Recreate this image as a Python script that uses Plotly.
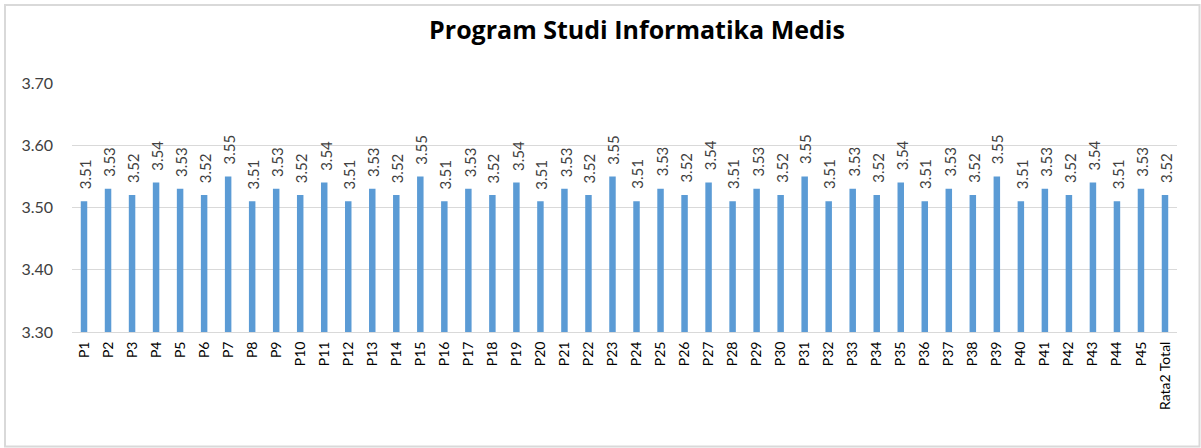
import plotly.graph_objects as go

categories = [f"P{i}" for i in range(1, 46)] + ["Rata2 Total"]
values = [3.51, 3.53, 3.52, 3.54, 3.53, 3.52, 3.55, 3.51, 3.53, 3.52,
          3.54, 3.51, 3.53, 3.52, 3.55, 3.51, 3.53, 3.52, 3.54, 3.51,
          3.53, 3.52, 3.55, 3.51, 3.53, 3.52, 3.54, 3.51, 3.53, 3.52,
          3.55, 3.51, 3.53, 3.52, 3.54, 3.51, 3.53, 3.52, 3.55, 3.51,
          3.53, 3.52, 3.54, 3.51, 3.53, 3.52]
y_ticks = [3.30, 3.40, 3.50, 3.60, 3.70]
title = "Program Studi Informatika Medis"

FONT = "Lato, Carlito, 'Open Sans', sans-serif"
TITLE_FONT = "'Open Sans', Lato, sans-serif"
TXT = "#404040"
W, H = 1201, 448
ML, MR, MT, MB = 72, 24, 83, 116
pw = W - ML - MR
ph = H - MT - MB


def px_x(x):
    return (x - ML) / pw


def px_y(y):
    return (H - MB - y) / ph


fig = go.Figure(go.Bar(
    x=categories, y=values,
    marker=dict(color="#5B9BD5", line=dict(width=0)),
    hoverinfo="x+y",
))

for c, v in zip(categories, values):
    fig.add_annotation(x=c, y=v, xref="x", yref="y", text=f"{v:.2f}",
                       textangle=-90, showarrow=False, yanchor="bottom",
                       xanchor="center", yshift=10, xshift=1,
                       font=dict(family=FONT, size=15, color=TXT))

fig.add_shape(type="rect", xref="paper", yref="paper",
              x0=px_x(5), x1=px_x(1199.5), y0=px_y(446.5), y1=px_y(5),
              line=dict(color="#D9D9D9", width=2), layer="below")

fig.update_layout(
    width=W, height=H,
    margin=dict(l=ML, r=MR, t=MT, b=MB, autoexpand=False),
    paper_bgcolor="white", plot_bgcolor="white",
    bargap=0.73,
    showlegend=False,
    title=dict(text=f"<b>{title}</b>", x=637 / W, xanchor="center",
               y=1 - 30 / H, yanchor="middle",
               font=dict(family=TITLE_FONT, size=25, color="#000000")),
    xaxis=dict(tickangle=-90, tickfont=dict(family=FONT, size=14, color="#000000"),
               showgrid=False, showline=True, linecolor="#D9D9D9", linewidth=1,
               ticks="", ticklabelstandoff=3, automargin=False),
    yaxis=dict(range=[3.30, 3.70], tickvals=y_ticks,
               ticktext=[f"{t:.2f}" for t in y_ticks],
               tickfont=dict(family=FONT, size=16, color=TXT),
               showgrid=True, gridcolor="#D9D9D9", gridwidth=1,
               zeroline=False, showline=False, ticks="", ticklabelstandoff=18,
               automargin=False),
    font=dict(family=FONT),
)

fig.write_html("out.html", config={"displayModeBar": False},
               post_script="document.body.style.margin='0';")
